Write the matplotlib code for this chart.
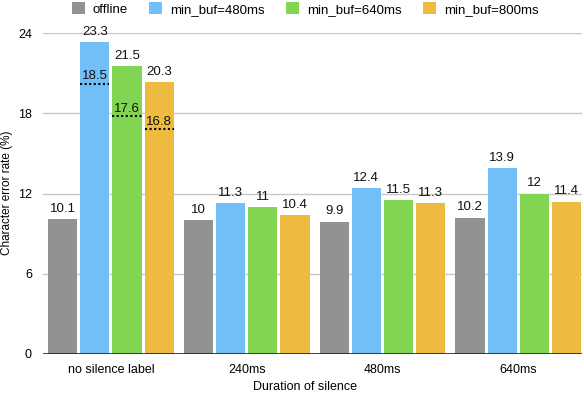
import matplotlib
matplotlib.use("Agg")
import matplotlib.pyplot as plt
import numpy as np

categories = ["no silence label", "240ms", "480ms", "640ms"]
series_names = ["offline", "min_buf=480ms", "min_buf=640ms", "min_buf=800ms"]
offline = [10.1, 10.0, 9.9, 10.2]
buf480 = [23.3, 11.3, 12.4, 13.9]
buf640 = [21.5, 11.0, 11.5, 12.0]
buf800 = [20.3, 10.4, 11.3, 11.4]
value_labels = [["10.1", "10", "9.9", "10.2"],
                ["23.3", "11.3", "12.4", "13.9"],
                ["21.5", "11", "11.5", "12"],
                ["20.3", "10.4", "11.3", "11.4"]]
# dotted reference lines in the first group (series index 1..3)
dotted_series = [1, 2, 3]
dotted_pos = [20.2, 17.8, 16.8]
dotted_labels = ["18.5", "17.6", "16.8"]
yticks = [0, 6, 12, 18, 24]

colors = ["#929292", "#72BFF8", "#82D552", "#EEBB41"]

plt.rcParams['font.family'] = ['Liberation Sans', 'DejaVu Sans']

fig = plt.figure(figsize=(5.84, 3.94), dpi=100)
ax = fig.add_axes([43/584, 1-354/394, 539/584, 321/394])

data = [offline, buf480, buf640, buf800]
x = np.arange(len(categories))
step = 0.237
width = 0.215
for i, (vals, c, name) in enumerate(zip(data, colors, series_names)):
    pos = x + (i - 1.5) * step
    ax.bar(pos, vals, width, color=c, label=name, zorder=3)
    for p, v, lab in zip(pos, vals, value_labels[i]):
        ax.annotate(lab, (p, v), xytext=(0, 3), textcoords="offset points",
                    ha="center", va="bottom", fontsize=9.5, color="#111111",
                    annotation_clip=False, zorder=5)

for si, yp, lab in zip(dotted_series, dotted_pos, dotted_labels):
    p = x[0] + (si - 1.5) * step
    ax.plot([p - width/2, p + width/2], [yp, yp], color="black", lw=1.5,
            linestyle=(0, (1, 1.2)), zorder=4)
    ax.annotate(lab, (p, yp), xytext=(0, 1), textcoords="offset points",
                ha="center", va="bottom", fontsize=9.5, color="#111111", zorder=5)

ax.set_ylim(0, 24)
ax.set_xlim(-0.50, 3.47)
ax.set_yticks(yticks)
ax.set_yticklabels([str(t) for t in yticks], fontsize=9)
ax.set_xticks(x)
ax.set_xticklabels(categories, fontsize=9)
ax.tick_params(axis='x', length=0, pad=7)
ax.tick_params(axis='y', length=0, pad=8)
for s in ax.spines.values():
    s.set_visible(False)
for t in yticks[1:]:
    ax.axhline(t, color="#c8c8c8", lw=1, zorder=1)
ax.axhline(0, color="#222222", lw=1.2, zorder=4)

fig.text(305/584, 1-387/394, "Duration of silence", fontsize=9,
         ha="center", va="center")
fig.text(7/584, 1-193/394, "Character error rate (%)", fontsize=8.5,
         ha="center", va="center", rotation=90)

leg = fig.legend(loc="center", bbox_to_anchor=(305/584, 1-9/394), ncol=4,
                 frameon=False, fontsize=9.5, handlelength=1.0, handleheight=1.0,
                 handletextpad=0.6, columnspacing=1.6, borderpad=0)

fig.savefig("out.png", dpi=100)
